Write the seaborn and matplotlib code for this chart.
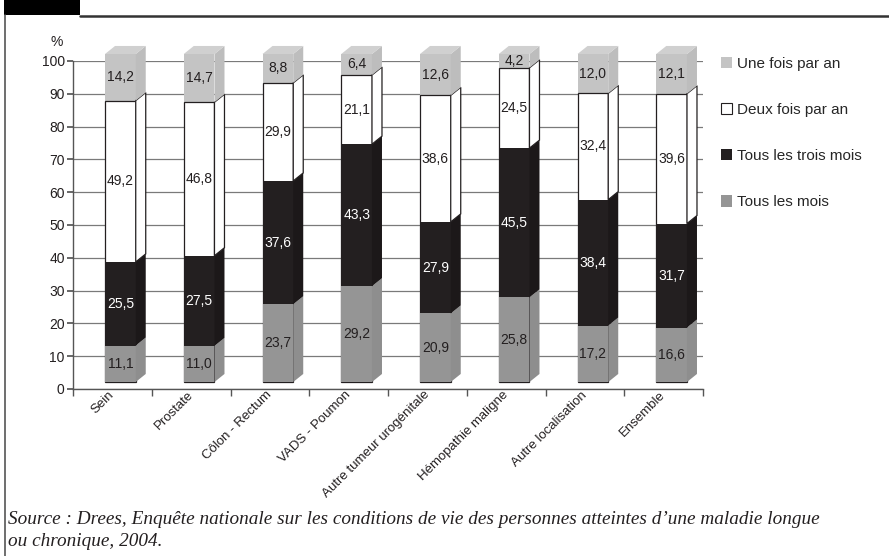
import numpy as np
import pandas as pd
import matplotlib
matplotlib.use('Agg')
import matplotlib.pyplot as plt
import matplotlib.transforms as mtransforms
from matplotlib.patches import Polygon, Rectangle, Patch
from matplotlib.lines import Line2D
import seaborn as sns

# données (en %)
categories = ['Sein', 'Prostate', 'Côlon - Rectum', 'VADS - Poumon',
              'Autre tumeur urogénitale', 'Hémopathie maligne',
              'Autre localisation', 'Ensemble']
tous_les_mois = [11.1, 11.0, 23.7, 29.2, 20.9, 25.8, 17.2, 16.6]
trois_mois = [25.5, 27.5, 37.6, 43.3, 27.9, 45.5, 38.4, 31.7]
deux_fois = [49.2, 46.8, 29.9, 21.1, 38.6, 24.5, 32.4, 39.6]
une_fois = [14.2, 14.7, 8.8, 6.4, 12.6, 4.2, 12.0, 12.1]
series_names = ['Tous les mois', 'Tous les trois mois', 'Deux fois par an', 'Une fois par an']
yticks = list(range(0, 101, 10))

series_values = [tous_les_mois, trois_mois, deux_fois, une_fois]
face_colors = ['#959595', '#231f20', '#ffffff', '#c4c4c4']
side_colors = ['#8e8e8e', '#1c1819', '#ffffff', '#bdbdbd']
text_colors = ['#231f20', '#ffffff', '#231f20', '#231f20']
top_color = '#d0d0d0'

sns.set_theme(style='white')
plt.rcParams['font.family'] = ['Liberation Sans', 'DejaVu Sans']

fig = plt.figure(figsize=(8.89, 5.56), dpi=100)
ax = fig.add_axes([73 / 889, 1 - 389 / 556, 630 / 889, 328 / 556])

bar_w = 0.39
dx, dy = 0.127, 2.45  # profondeur 3D (unités de données)
shift = mtransforms.ScaledTranslation(0.08, 0.07, fig.dpi_scale_trans)
tr = ax.transData + shift

df = pd.DataFrame({'categorie': categories})
vals = np.array(series_values)
cum = np.cumsum(vals, axis=0)

# faces avant : barres cumulées, de la plus haute à la plus basse
for k in range(3, -1, -1):
    df['h'] = cum[k]
    sns.barplot(data=df, x='categorie', y='h', color=face_colors[k], width=bar_w,
                saturation=1, errorbar=None,
                edgecolor='#231f20' if k == 2 else face_colors[k],
                linewidth=0.9 if k == 2 else 0, ax=ax)

for p in ax.patches:
    p.set_transform(tr)
    p.set_clip_on(False)
    p.set_zorder(3)

# faces latérales et dessus
for i in range(len(categories)):
    x0, x1 = i - bar_w / 2, i + bar_w / 2
    for k in range(4):
        b, t = cum[k, i] - vals[k, i], cum[k, i]
        poly = Polygon([(x1, b), (x1 + dx, b + dy), (x1 + dx, t + dy), (x1, t)],
                       closed=True, transform=tr, clip_on=False, zorder=3,
                       facecolor=side_colors[k],
                       edgecolor='#231f20' if k == 2 else side_colors[k],
                       linewidth=0.9 if k == 2 else 0)
        ax.add_patch(poly)
        ax.text(i, (b + t) / 2, f'{vals[k, i]:.1f}'.replace('.', ','), transform=tr,
                ha='center', va='center', fontsize=10, color=text_colors[k], zorder=5)
    top = cum[3, i]
    ax.add_patch(Polygon([(x0, top), (x1, top), (x1 + dx, top + dy), (x0 + dx, top + dy)],
                         closed=True, transform=tr, clip_on=False, zorder=3,
                         facecolor=top_color, edgecolor=top_color, linewidth=0))

ax.set_xlim(-0.5, len(categories) - 0.5)
ax.set_ylim(0, 100)
ax.set_yticks(yticks)
ax.set_yticklabels([str(v) for v in yticks], fontsize=10, color='#231f20')
ax.set_axisbelow(True)
ax.yaxis.grid(True, color='#7a7a7a', linewidth=0.9)
ax.xaxis.grid(False)
ax.set_xlabel('')
ax.set_ylabel('')
sns.despine(ax=ax)
for s in ['left', 'bottom']:
    ax.spines[s].set_color('#555555')
    ax.spines[s].set_linewidth(1.0)

ax.set_xticks(range(len(categories)))
ax.set_xticklabels(categories, rotation=45, ha='right', va='center', rotation_mode='anchor',
                   fontsize=9.5, color='#231f20')
ax.set_xticks(np.arange(-0.5, len(categories), 1), minor=True)
ax.tick_params(axis='x', which='major', length=0, pad=3)
ax.tick_params(axis='x', which='minor', bottom=True, length=5, color='#555555')
ax.tick_params(axis='y', left=True, length=4, color='#555555', pad=2)

fig.text(57 / 889, 1 - 42 / 556, '%', fontsize=10, ha='center', va='center', color='#231f20')

handles = [Patch(facecolor=face_colors[3], edgecolor='none', label=series_names[3]),
           Patch(facecolor='white', edgecolor='#231f20', linewidth=0.8, label=series_names[2]),
           Patch(facecolor=face_colors[1], edgecolor='none', label=series_names[1]),
           Patch(facecolor=face_colors[0], edgecolor='none', label=series_names[0])]
fig.legend(handles=handles, loc='upper left', bbox_to_anchor=(721 / 889, 1 - 57 / 556),
           frameon=False, fontsize=11, handlelength=0.75, handleheight=0.75,
           handletextpad=0.3, labelspacing=2.1, borderpad=0, borderaxespad=0)

# cadre
fig.add_artist(Rectangle((4 / 889, 1 - 15 / 556), 76 / 889, 15 / 556,
                         transform=fig.transFigure, facecolor='black', edgecolor='none'))
fig.add_artist(Line2D([80 / 889, 1], [1 - 15.5 / 556] * 2, transform=fig.transFigure,
                      color='#333333', linewidth=1.8))
fig.add_artist(Line2D([5 / 889] * 2, [0, 1 - 15 / 556], transform=fig.transFigure,
                      color='#555555', linewidth=1.2))

src_font = dict(family=['Liberation Serif', 'DejaVu Serif'], style='italic', fontsize=13.9,
                color='#231f20', va='center', ha='left')
fig.text(8 / 889, 1 - 519 / 556,
         "Source : Drees, Enquête nationale sur les conditions de vie des personnes atteintes d’une maladie longue",
         **src_font)
fig.text(8 / 889, 1 - 542 / 556, 'ou chronique, 2004.', **src_font)

fig.savefig('out.png', dpi=100)
